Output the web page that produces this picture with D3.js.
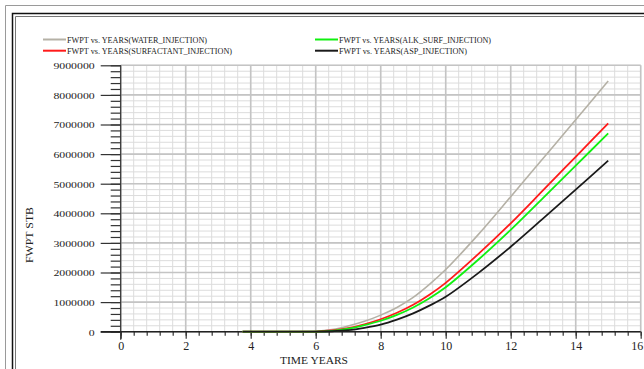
<!DOCTYPE html>
<html>
<head>
<meta charset="utf-8">
<script src="https://cdn.jsdelivr.net/npm/d3@7"></script>
<style>
  html, body { margin: 0; padding: 0; background: #fff; }
  svg { display: block; }
  text { font-family: "Liberation Serif", "Times New Roman", serif; fill: #222; }
</style>
</head>
<body>
<svg id="chart" width="644" height="369"></svg>
<script>
// Cumulative water production (FWPT, STB) against time in years
const years        = [3.75, 4, 5, 6, 6.5, 7, 7.5, 8, 8.5, 9, 9.5, 10, 11, 12, 13, 14, 15];
const waterInj     = [0, 0, 0, 0.01e6, 0.07e6, 0.19e6, 0.35e6, 0.56e6, 0.82e6, 1.16e6, 1.60e6, 2.10e6, 3.28e6, 4.56e6, 5.86e6, 7.16e6, 8.47e6];
const surfactInj   = [0, 0, 0, 0.005e6, 0.04e6, 0.12e6, 0.25e6, 0.42e6, 0.64e6, 0.91e6, 1.25e6, 1.65e6, 2.62e6, 3.66e6, 4.78e6, 5.91e6, 7.04e6];
const alkSurfInj   = [0, 0, 0, 0.004e6, 0.03e6, 0.10e6, 0.22e6, 0.37e6, 0.57e6, 0.82e6, 1.13e6, 1.50e6, 2.43e6, 3.44e6, 4.52e6, 5.61e6, 6.70e6];
const aspInj       = [0, 0, 0, 0.002e6, 0.015e6, 0.05e6, 0.13e6, 0.24e6, 0.41e6, 0.62e6, 0.88e6, 1.18e6, 1.98e6, 2.87e6, 3.83e6, 4.80e6, 5.78e6];

const seriesNames  = ["FWPT vs. YEARS(WATER_INJECTION)", "FWPT vs. YEARS(SURFACTANT_INJECTION)",
                      "FWPT vs. YEARS(ALK_SURF_INJECTION)", "FWPT vs. YEARS(ASP_INJECTION)"];
const seriesColors = ["#b5b1a6", "#ff1a1a", "#10f010", "#1a1a1a"];
const seriesValues = [waterInj, surfactInj, alkSurfInj, aspInj];

const xMajorTicks = [0, 2, 4, 6, 8, 10, 12, 14, 16];
const yMajorTicks = [0, 1e6, 2e6, 3e6, 4e6, 5e6, 6e6, 7e6, 8e6, 9e6];

const svg = d3.select("#chart");

// page frame
svg.append("path").attr("d", "M5.5,369 V5.5 H644").attr("fill", "none").attr("stroke", "#9a9a9a").attr("stroke-width", 1);
svg.append("path").attr("d", "M12.5,369 V13.5 H644").attr("fill", "none").attr("stroke", "#111").attr("stroke-width", 1.5);
svg.append("path").attr("d", "M15.5,369 V16.5 H644").attr("fill", "none").attr("stroke", "#777").attr("stroke-width", 1);

const x = d3.scaleLinear().domain([0, 16]).range([120.7, 640.7]);
const y = d3.scaleLinear().domain([0, 9e6]).range([331.7, 65.3]);

const minorX = d3.range(0, 16.001, 0.4).map(v => +v.toFixed(1));
const minorY = d3.range(0, 9e6 + 1, 2e5);

// grid
const grid = svg.append("g");
grid.selectAll(".gxm").data(minorX).join("line")
  .attr("x1", d => x(d)).attr("x2", d => x(d)).attr("y1", y(9e6)).attr("y2", y(0))
  .attr("stroke", "#dcdcdc").attr("stroke-width", 1);
grid.selectAll(".gym").data(minorY).join("line")
  .attr("x1", x(0)).attr("x2", x(16)).attr("y1", d => y(d)).attr("y2", d => y(d))
  .attr("stroke", "#dcdcdc").attr("stroke-width", 1);
grid.selectAll(".gxM").data(xMajorTicks).join("line")
  .attr("x1", d => x(d)).attr("x2", d => x(d)).attr("y1", y(9e6)).attr("y2", y(0))
  .attr("stroke", "#c4c4c4").attr("stroke-width", 1.6);
grid.selectAll(".gyM").data(yMajorTicks).join("line")
  .attr("x1", x(0)).attr("x2", x(16)).attr("y1", d => y(d)).attr("y2", d => y(d))
  .attr("stroke", "#c4c4c4").attr("stroke-width", 1.6);

// axes
const yAxisMinor = d3.axisLeft(y).tickValues(minorY).tickSize(10).tickFormat("");
const yAxis = d3.axisLeft(y).tickValues(yMajorTicks).tickSize(20).tickFormat(d3.format("d"));
const xAxisMinor = d3.axisBottom(x).tickValues(minorX).tickSize(4).tickFormat("");
const xAxis = d3.axisBottom(x).tickValues(xMajorTicks).tickSize(7).tickFormat(d3.format("d"));

const gym = svg.append("g").attr("transform", `translate(${x(0)},0)`).call(yAxisMinor);
const gy = svg.append("g").attr("transform", `translate(${x(0)},0)`).call(yAxis);
const gxm = svg.append("g").attr("transform", `translate(0,${y(0)})`).call(xAxisMinor);
const gx = svg.append("g").attr("transform", `translate(0,${y(0)})`).call(xAxis);

[gym, gy, gxm, gx].forEach(g => {
  g.select(".domain").remove();
  g.selectAll(".tick line").attr("stroke", "#333").attr("stroke-width", 1.2);
});
gy.selectAll(".tick text")
  .attr("x", -26).attr("dy", "0.38em").attr("font-size", 9)
  .attr("textLength", d => String(d).length * 5.9).attr("lengthAdjust", "spacingAndGlyphs")
  .style("font-family", "Liberation Serif").attr("fill", "#333");
gx.selectAll(".tick text")
  .attr("y", 18.3).attr("dy", 0).attr("font-size", 12)
  .attr("x", d => d === 16 ? -4 : 0)
  .style("font-family", "Liberation Serif").attr("fill", "#333");

// axis lines
svg.append("line").attr("x1", x(0)).attr("x2", x(0)).attr("y1", y(9e6)).attr("y2", y(0) + 8)
  .attr("stroke", "#333").attr("stroke-width", 1.2);
svg.append("line").attr("x1", x(0) - 20).attr("x2", x(16)).attr("y1", y(0)).attr("y2", y(0))
  .attr("stroke", "#222").attr("stroke-width", 1.5);

// series
const line = d3.line().x((d, i) => x(years[i])).y(d => y(d)).curve(d3.curveCatmullRom.alpha(0.5));
seriesValues.forEach((vals, k) => {
  svg.append("path").datum(vals).attr("d", line)
    .attr("fill", "none").attr("stroke", seriesColors[k]).attr("stroke-width", k === 0 ? 1.6 : 1.8);
});

// axis titles
svg.append("text").attr("x", 280).attr("y", 363.5).attr("font-size", 11).attr("fill", "#333")
  .attr("textLength", 68).attr("lengthAdjust", "spacingAndGlyphs")
  .text("TIME  YEARS");
svg.append("text").attr("transform", "translate(33,263) rotate(-90)").attr("font-size", 11).attr("fill", "#333")
  .attr("textLength", 56).attr("lengthAdjust", "spacingAndGlyphs")
  .text("FWPT  STB");

// legend
const legendPos = [[43, 39.5, 140], [43, 50.7, 165], [315, 39.5, 152], [315, 50.7, 128]];
seriesNames.forEach((name, k) => {
  const [lx, ly, tl] = legendPos[k];
  svg.append("line").attr("x1", lx).attr("x2", lx + 23).attr("y1", ly).attr("y2", ly)
    .attr("stroke", seriesColors[k]).attr("stroke-width", 2);
  svg.append("text").attr("x", lx + 24).attr("y", ly + 3).attr("font-size", 9).attr("fill", "#333")
    .attr("textLength", tl).attr("lengthAdjust", "spacingAndGlyphs")
    .text(name);
});
</script>
</body>
</html>
